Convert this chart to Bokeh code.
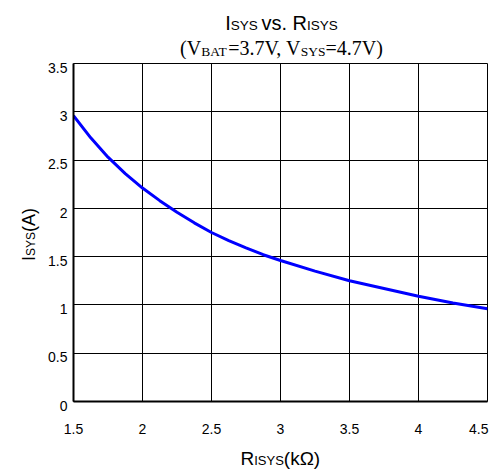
import math
from bokeh.plotting import figure
from bokeh.layouts import column, row
from bokeh.models import Label, Range1d, FixedTicker
from bokeh.embed import file_html
from bokeh.resources import INLINE

# System current vs. ISYS resistor
r_isys = [1.5, 1.625, 1.75, 1.875, 2.0, 2.125, 2.25, 2.375, 2.5, 2.625, 2.75, 2.875,
          3.0, 3.25, 3.5, 3.75, 4.0, 4.25, 4.5]
i_sys = [2.96, 2.73, 2.53, 2.36, 2.21, 2.08, 1.96, 1.85, 1.75, 1.665, 1.59, 1.52,
         1.46, 1.35, 1.25, 1.17, 1.09, 1.02, 0.96]

x_ticks = [1.5, 2.0, 2.5, 3.0, 3.5, 4.0, 4.5]
x_tick_labels = ["1.5", "2", "2.5", "3", "3.5", "4", "4.5"]
y_ticks = [0.0, 0.5, 1.0, 1.5, 2.0, 2.5, 3.0, 3.5]
y_tick_labels = ["0", "0.5", "1", "1.5", "2", "2.5", "3", "3.5"]

W, H = 489, 469
LEFT, RIGHT, TOP, BOTTOM = 73, 487, 63, 401   # plot frame on the page
TITLE_H = 59                                   # title strip height
MID_BOTTOM = 415                               # bottom of the plot figure
AXIS_PAD = 2                                   # room for the left axis line
YLAB_W = LEFT - AXIS_PAD                       # left text strip width
BASE_SHIFT = 0.27                              # baseline correction (em)

SANS = "Liberation Sans"
SERIF = "Liberation Serif"

# approximate advance widths (em) used to lay out mixed-size text runs
SANS_W = {'I': 0.278, 'S': 0.667, 'Y': 0.667, 'v': 0.5, 's': 0.5, '.': 0.278,
          ' ': 0.278, 'R': 0.722, '(': 0.333, ')': 0.333, 'A': 0.667, 'k': 0.5,
          'Ω': 0.768}
SERIF_W = {'(': 0.333, ')': 0.333, 'V': 0.722, 'B': 0.667, 'A': 0.722, 'T': 0.611,
           '=': 0.564, '3': 0.5, '4': 0.5, '7': 0.5, '.': 0.25, ',': 0.25, ' ': 0.25,
           'S': 0.556, 'Y': 0.722}
SERIF_KERN = {('V', ','): -0.129, ('V', '.'): -0.129}


def run_width(text, font, size):
    table = SANS_W if font == SANS else SERIF_W
    w = sum(table.get(c, 0.5) for c in text)
    if font == SERIF:
        w += sum(SERIF_KERN.get(pair, 0.0) for pair in zip(text, text[1:]))
    return w * size


def text_strip(width, height):
    """A blank figure whose frame fills it, used to hold text."""
    f = figure(width=width, height=height, output_backend="svg", toolbar_location=None,
               x_axis_location=None, y_axis_location=None,
               min_border=0, min_border_left=0, min_border_right=0,
               min_border_top=0, min_border_bottom=0,
               x_range=Range1d(0, width), y_range=Range1d(0, height))
    f.frame_align = False
    f.grid.visible = False
    f.outline_line_color = None
    f.background_fill_color = "white"
    f.border_fill_color = "white"
    return f


class Strip:
    def __init__(self, fig, left, top, height):
        self.fig, self.left, self.top, self.height = fig, left, top, height

    def label(self, px, py, text, font, size, align="left", vertical=False):
        shift = BASE_SHIFT * size
        if vertical:
            px -= shift
        else:
            py -= shift
        self.fig.add_layout(Label(x=px - self.left, y=self.height - (py - self.top),
                                  x_units="screen", y_units="screen", text=text,
                                  angle=math.pi / 2 if vertical else 0,
                                  text_font=font, text_font_size=f"{size}px",
                                  text_color="black", text_align=align,
                                  text_baseline="alphabetic"))

    def run(self, pieces, cx, cy, vertical=False):
        """pieces: (text, font, size, drop below the baseline in px)"""
        total = sum(run_width(t, f, s) for t, f, s, _ in pieces)
        pos = -total / 2.0
        for t, f, s, drop in pieces:
            if vertical:
                self.label(cx + drop, cy - pos, t, f, s, vertical=True)
            else:
                self.label(cx + pos, cy + drop, t, f, s)
            pos += run_width(t, f, s)


# ---- main plot ----
p = figure(width=W - YLAB_W, height=MID_BOTTOM - TITLE_H,
           x_range=Range1d(1.5, 4.5), y_range=Range1d(0, 3.5),
           output_backend="svg", toolbar_location=None,
           min_border_left=AXIS_PAD, min_border_right=W - RIGHT,
           min_border_top=TOP - TITLE_H, min_border_bottom=MID_BOTTOM - BOTTOM)
p.frame_align = False
p.background_fill_color = "white"
p.border_fill_color = "white"
p.outline_line_color = "black"
p.outline_line_width = 1

for ax in (p.xaxis, p.yaxis):
    ax.axis_line_color = "black"
    ax.axis_line_width = 2
    ax.major_tick_in = 0
    ax.major_tick_out = 0
    ax.minor_tick_line_color = None
    ax.major_label_text_font_size = "0px"
    ax.major_label_standoff = 0

p.xaxis.ticker = FixedTicker(ticks=x_ticks)
p.yaxis.ticker = FixedTicker(ticks=y_ticks)
p.xaxis.major_label_overrides = {t: "" for t in x_ticks}
p.yaxis.major_label_overrides = {t: "" for t in y_ticks}

p.xgrid.ticker = FixedTicker(ticks=x_ticks)
p.ygrid.ticker = FixedTicker(ticks=y_ticks)
for g in (p.xgrid, p.ygrid):
    g.grid_line_color = "black"
    g.grid_line_width = 1

p.line(r_isys, i_sys, line_color="#0000ff", line_width=3)

# ---- title ----
title_fig = text_strip(W, TITLE_H)
title = Strip(title_fig, 0, 0, TITLE_H)
title.run([("I", SANS, 20, 0), ("SYS ", SANS, 13.5, 0.7), ("vs. ", SANS, 20, 0),
           ("R", SANS, 20, 0), ("ISYS", SANS, 13.5, 0.7)], 281, 28)
title.run([("(V", SERIF, 20, 0), ("BAT", SERIF, 13.5, 1.5), ("=3.7V, V", SERIF, 20, 0),
           ("SYS", SERIF, 13.5, 1.5), ("=4.7V)", SERIF, 20, 0)], 281, 53)

# ---- y tick labels and y title ----
ylab_fig = text_strip(YLAB_W, MID_BOTTOM - TITLE_H)
ylab = Strip(ylab_fig, 0, TITLE_H, MID_BOTTOM - TITLE_H)
y_span = y_ticks[-1] - y_ticks[0]
for t, s in zip(y_ticks, y_tick_labels):
    py = BOTTOM - (t - y_ticks[0]) / y_span * (BOTTOM - TOP)
    ylab.label(67, py + 8, s, SANS, 14, align="right")
ylab.run([("I", SANS, 18, 0), ("SYS", SANS, 12, 0.5), ("(A)", SANS, 18, 0)], 33, 234,
         vertical=True)

# ---- x tick labels and x title ----
xlab_fig = text_strip(W, H - MID_BOTTOM)
xlab = Strip(xlab_fig, 0, MID_BOTTOM, H - MID_BOTTOM)
x_span = x_ticks[-1] - x_ticks[0]
for t, s in zip(x_ticks, x_tick_labels):
    if t == x_ticks[-1]:
        xlab.label(RIGHT + 1, 432, s, SANS, 14, align="right")
    else:
        px = LEFT + (t - x_ticks[0]) / x_span * (RIGHT - LEFT)
        xlab.label(px, 432, s, SANS, 14, align="center")
xlab.run([("R", SANS, 19, 0), ("ISYS", SANS, 13, 0.5), ("(kΩ)", SANS, 19, 0)], 280, 463)

layout = column(title_fig, row(ylab_fig, p, spacing=0), xlab_fig, spacing=0)

open("out.html", "w").write(file_html(layout, INLINE))
